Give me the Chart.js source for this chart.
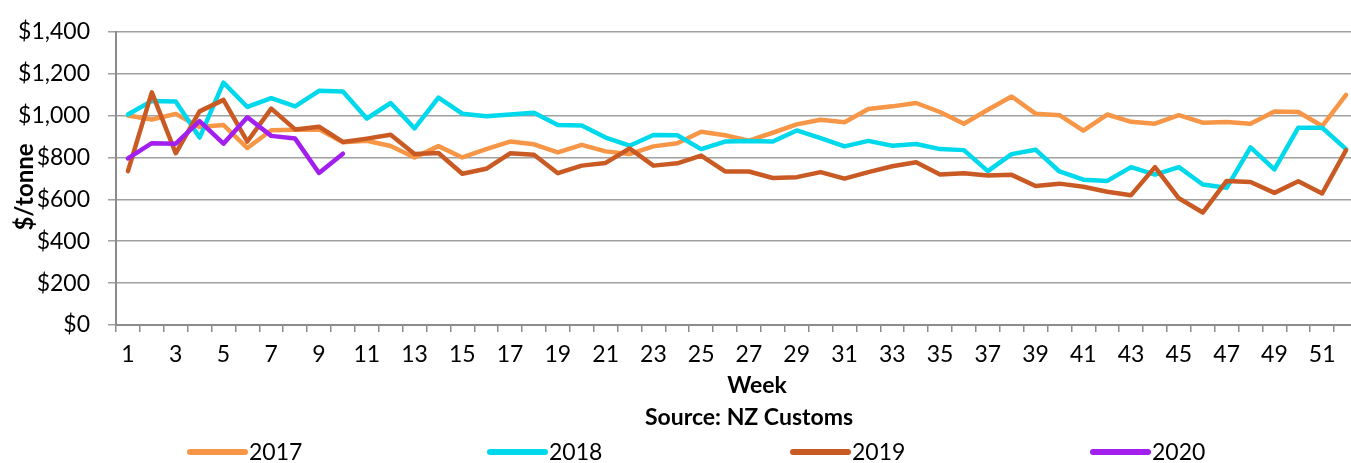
<!DOCTYPE html>
<html>
<head>
<meta charset="utf-8">
<title>$/tonne by week</title>
<script src="https://cdn.jsdelivr.net/npm/chart.js@4.4.1/dist/chart.umd.min.js"></script>
<style>
    html, body { margin: 0; padding: 0; background: #fff; overflow: hidden; }
    #wrap { width: 1358px; height: 463px; }
</style>
</head>
<body>
<div id="wrap"><canvas id="chart" width="1358" height="463"></canvas></div>
<script>
// Semanas (categorías del eje x)
const weeks = [1, 2, 3, 4, 5, 6, 7, 8, 9, 10, 11, 12, 13, 14, 15, 16, 17, 18, 19, 20,
    21, 22, 23, 24, 25, 26, 27, 28, 29, 30, 31, 32, 33, 34, 35, 36, 37, 38, 39, 40,
    41, 42, 43, 44, 45, 46, 47, 48, 49, 50, 51, 52];

// Marcas del eje y
const yTicks = [0, 200, 400, 600, 800, 1000, 1200, 1400];

// Valores ($/tonne)
const price2017 = [1000, 981, 1008, 945, 955, 845, 930, 932, 934, 872,
    880, 855, 800, 854, 800, 840, 876, 863, 824, 860,
    829, 816, 853, 868, 923, 906, 880, 918, 958, 980,
    968, 1031, 1044, 1060, 1017, 961, 1028, 1091, 1009, 1002,
    928, 1005, 970, 961, 1002, 966, 969, 961, 1020, 1017,
    950, 1099];

const price2018 = [1005, 1070, 1067, 895, 1157, 1041, 1083, 1044, 1118, 1115,
    986, 1060, 939, 1086, 1009, 997, 1005, 1013, 955, 953,
    895, 856, 907, 906, 840, 876, 879, 876, 929, 892,
    853, 879, 856, 864, 840, 835, 735, 816, 837, 733,
    694, 688, 754, 718, 754, 671, 655, 848, 743, 942,
    942, 840];

const price2019 = [735, 1111, 820, 1020, 1075, 876, 1033, 934, 947, 874,
    890, 908, 816, 821, 722, 746, 820, 813, 725, 761,
    774, 843, 761, 772, 809, 733, 733, 702, 706, 730,
    699, 730, 758, 777, 719, 725, 714, 717, 664, 675,
    660, 636, 620, 754, 605, 537, 688, 683, 631, 686,
    628, 835];

const price2020 = [796, 868, 866, 973, 866, 992, 903, 890, 726, 818];

const seriesNames = ['2017', '2018', '2019', '2020'];
const seriesColors = ['#F79646', '#00D8EC', '#CA5A24', '#A21FEE'];

const chartElement = document.getElementById('chart');
const ctx = chartElement.getContext('2d');

// Títulos de ejes y leyenda dibujados a mano (posición como en el original)
const decorPlugin = {
    id: 'decor',
    afterDraw(chart) {
        const c = chart.ctx;
        c.save();
        c.fillStyle = '#000';
        c.textAlign = 'center';
        c.textBaseline = 'middle';
        c.font = 'bold 23px Lato';
        c.fillText('Week', 757, 386);
        c.fillText('Source: NZ Customs', 749, 418);

        c.save();
        c.translate(25, 187);
        c.rotate(-Math.PI / 2);
        c.font = 'bold 24px Lato';
        c.fillText('$/tonne', 0, 0);
        c.restore();

        // leyenda
        const legendX = [190, 490, 793, 1093];
        const legendY = 452;
        c.font = '23px Lato';
        c.textAlign = 'left';
        c.lineCap = 'round';
        c.lineWidth = 6;
        chart.data.datasets.forEach((ds, i) => {
            c.strokeStyle = ds.borderColor;
            c.beginPath();
            c.moveTo(legendX[i], legendY);
            c.lineTo(legendX[i] + 55, legendY);
            c.stroke();
            c.fillText(ds.label, legendX[i] + 59, legendY + 1);
        });
        c.restore();
    }
};

const allSeries = [price2017, price2018, price2019, price2020];

new Chart(ctx, {
    type: 'line',
    data: {
        labels: weeks,
        datasets: allSeries.map((values, i) => ({
            label: seriesNames[i],
            data: values,
            borderColor: seriesColors[i],
            backgroundColor: seriesColors[i],
            borderWidth: 4.5,
            pointRadius: 0,
            tension: 0,
            fill: false,
            order: 4 - i
        }))
    },
    options: {
        responsive: false,
        animation: false,
        devicePixelRatio: 1,
        layout: { padding: { left: 0, right: 0, top: 26, bottom: 29 } },
        plugins: {
            legend: { display: false },
            tooltip: { enabled: false }
        },
        elements: {
            line: { borderJoinStyle: 'round', borderCapStyle: 'round' }
        },
        scales: {
            x: {
                type: 'category',
                offset: true,
                grid: {
                    offset: true,
                    drawOnChartArea: false,
                    drawTicks: true,
                    tickLength: 7,
                    color: '#8c8c8c',
                    lineWidth: 1.5
                },
                border: { color: '#8c8c8c', width: 2 },
                ticks: {
                    autoSkip: false,
                    maxRotation: 0,
                    padding: 9,
                    color: '#000',
                    font: { family: 'Lato', size: 23 },
                    callback: function(value, index) {
                        return index % 2 === 0 ? this.getLabelForValue(value) : '';
                    }
                },
                afterFit: function(scale) { scale.height = 109; }
            },
            y: {
                min: 0,
                max: 1400,
                afterBuildTicks: function(scale) {
                    scale.ticks = yTicks.map(v => ({ value: v }));
                },
                grid: { color: '#a0a0a0', lineWidth: 1.5, tickLength: 8 },
                border: { color: '#8c8c8c', width: 2 },
                ticks: {
                    padding: 18,
                    color: '#000',
                    font: { family: 'Lato', size: 23 },
                    callback: function(value) {
                        return '$' + value.toLocaleString('en-US');
                    }
                },
                afterFit: function(scale) { scale.width = 116; }
            }
        }
    },
    plugins: [decorPlugin]
});
</script>
</body>
</html>
